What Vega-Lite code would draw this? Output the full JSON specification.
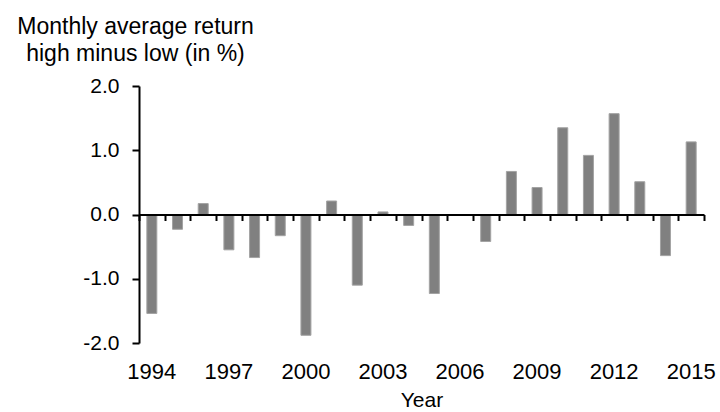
{
  "$schema": "https://vega.github.io/schema/vega-lite/v6.json",
  "autosize": "none",
  "padding": {"left": 139, "top": 86, "right": 16, "bottom": 69},
  "width": 565,
  "height": 257,
  "background": "white",
  "config": {
    "view": {"stroke": null},
    "font": "Liberation Sans",
    "axis": {"labelColor": "black", "titleColor": "black", "titleFontWeight": "normal", "grid": false}
  },
  "data": {
    "values": [
      {"year": 1994, "ret": -1.54},
      {"year": 1995, "ret": -0.23},
      {"year": 1996, "ret": 0.17},
      {"year": 1997, "ret": -0.55},
      {"year": 1998, "ret": -0.67},
      {"year": 1999, "ret": -0.33},
      {"year": 2000, "ret": -1.88},
      {"year": 2001, "ret": 0.21},
      {"year": 2002, "ret": -1.1},
      {"year": 2003, "ret": 0.04},
      {"year": 2004, "ret": -0.17},
      {"year": 2005, "ret": -1.23},
      {"year": 2006, "ret": 0.0},
      {"year": 2007, "ret": -0.42},
      {"year": 2008, "ret": 0.67},
      {"year": 2009, "ret": 0.42},
      {"year": 2010, "ret": 1.35},
      {"year": 2011, "ret": 0.92},
      {"year": 2012, "ret": 1.57},
      {"year": 2013, "ret": 0.51},
      {"year": 2014, "ret": -0.64},
      {"year": 2015, "ret": 1.13}
    ]
  },
  "layer": [
    {
      "mark": {"type": "bar", "color": "#808080", "stroke": "#a3a3a3", "strokeWidth": 1, "size": 10},
      "encoding": {
        "x": {
          "field": "year", "type": "ordinal",
          "scale": {"paddingInner": 0, "paddingOuter": 0},
          "axis": {
            "orient": "bottom", "domain": false, "ticks": false, "tickSize": 0,
            "labelAngle": 0, "labelFontSize": 22, "labelPadding": 18,
            "labelExpr": "(datum.value - 1994) % 3 == 0 ? datum.label : ''",
            "title": "Year", "titleFontSize": 21, "titlePadding": 7
          }
        },
        "y": {
          "field": "ret", "type": "quantitative",
          "scale": {"domain": [-2, 2], "nice": false, "zero": false},
          "axis": {
            "values": [-2, -1, 0, 1, 2],
            "labelExpr": "(datum.value < 0 ? '-' : '') + format(abs(datum.value), '.1f')",
            "domainColor": "black", "domainWidth": 2,
            "tickColor": "black", "tickWidth": 2, "tickSize": 7,
            "labelFontSize": 21, "labelPadding": 13,
            "title": ["Monthly average return", "high minus low (in %)"],
            "titleFontSize": 23, "titleAngle": 0, "titleAlign": "center",
            "titleBaseline": "alphabetic", "titleX": -4, "titleY": -53,
            "titleLineHeight": 27
          }
        }
      }
    },
    {
      "mark": {"type": "bar", "opacity": 0, "size": 10},
      "encoding": {
        "x": {
          "field": "year", "type": "ordinal",
          "axis": {
            "orient": "bottom", "offset": -128.5, "labels": false, "title": null,
            "domain": true, "domainColor": "black", "domainWidth": 2,
            "ticks": true, "tickBand": "extent", "tickColor": "black", "tickWidth": 2, "tickSize": 6,
            "zindex": 1
          }
        }
      }
    }
  ],
  "resolve": {"axis": {"x": "independent"}}
}
